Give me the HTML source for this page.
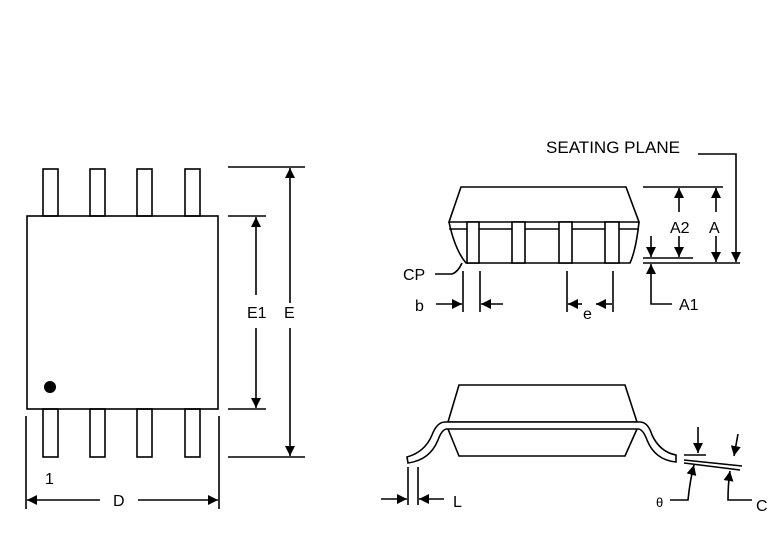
<!DOCTYPE html>
<html><head><style>
html,body{margin:0;padding:0;background:#fff;}
svg{display:block;}
text{font-family:"Liberation Sans",sans-serif;font-size:16px;fill:#000;}
</style></head><body>
<svg width="780" height="556" viewBox="0 0 780 556" xmlns="http://www.w3.org/2000/svg">
<defs>
<marker id="ar" viewBox="0 0 10 10" refX="10" refY="5" markerWidth="10" markerHeight="10" markerUnits="userSpaceOnUse" orient="auto-start-reverse">
<path d="M0,0 L10,5 L0,10 z" fill="#000"/></marker>
</defs>
<g stroke="#000" stroke-width="1.6" fill="none">
<rect x="27" y="216" width="191" height="193"/>
<rect x="43" y="169" width="15" height="47"/><rect x="90" y="169" width="15" height="47"/><rect x="137" y="169" width="15" height="47"/><rect x="185" y="169" width="15" height="47"/>
<rect x="43" y="409" width="15" height="48"/><rect x="90" y="409" width="15" height="48"/><rect x="137" y="409" width="15" height="48"/><rect x="185" y="409" width="15" height="48"/>
<line x1="228" y1="167" x2="305" y2="167"/><line x1="228" y1="457" x2="305" y2="457"/>
<line x1="228" y1="216" x2="266" y2="216"/><line x1="228" y1="409" x2="266" y2="409"/>
<line x1="290" y1="303" x2="290" y2="168" marker-end="url(#ar)"/><line x1="290" y1="328" x2="290" y2="456" marker-end="url(#ar)"/>
<line x1="256" y1="295" x2="256" y2="217" marker-end="url(#ar)"/><line x1="256" y1="328" x2="256" y2="408" marker-end="url(#ar)"/>
<line x1="26" y1="416" x2="26" y2="509"/><line x1="219" y1="416" x2="219" y2="509"/>
<line x1="100" y1="500" x2="27" y2="500" marker-end="url(#ar)"/><line x1="138" y1="500" x2="218" y2="500" marker-end="url(#ar)"/>
<path d="M461,187 L626,187 L639,222 L449,222 Z"/>
<path d="M449,222 Q455,250 466,263 L630,263 Q636,250 639,222"/>
<line x1="449" y1="229" x2="639" y2="229"/>
<g fill="#fff">
<rect x="467" y="222" width="12" height="41"/><rect x="512" y="222" width="13" height="41"/><rect x="559" y="222" width="13" height="41"/><rect x="605" y="222" width="14" height="41"/>
</g>
<line x1="643" y1="187" x2="723" y2="187"/>
<line x1="643" y1="258" x2="693" y2="258"/><line x1="643" y1="263" x2="740" y2="263"/>
<line x1="679" y1="212" x2="679" y2="188" marker-end="url(#ar)"/><line x1="679" y1="236" x2="679" y2="257" marker-end="url(#ar)"/>
<line x1="716" y1="212" x2="716" y2="188" marker-end="url(#ar)"/><line x1="716" y1="236" x2="716" y2="262" marker-end="url(#ar)"/>
<polyline points="698,154 736,154 736,262" marker-end="url(#ar)"/>
<line x1="651" y1="236" x2="651" y2="257" marker-end="url(#ar)"/>
<polyline points="672,304 651,304 651,264" marker-end="url(#ar)"/>
<path d="M435,274 L452,274 Q458,272 462,263"/>
<line x1="463" y1="271" x2="463" y2="312"/><line x1="480" y1="271" x2="480" y2="312"/>
<line x1="436" y1="304" x2="462" y2="304" marker-end="url(#ar)"/><line x1="503" y1="304" x2="481" y2="304" marker-end="url(#ar)"/>
<line x1="567" y1="271" x2="567" y2="312"/><line x1="613" y1="271" x2="613" y2="312"/>
<line x1="582" y1="304" x2="568" y2="304" marker-end="url(#ar)"/><line x1="612" y1="304" x2="596" y2="304" marker-end="url(#ar)"/>
<path d="M459,385 L625,385 L637,422 L448,422 Z" fill="#fff"/>
<path d="M448,429 L459,456 L625,456 L637,429"/>
<path d="M407,457 Q425,452 432,435 Q437,422 445,422 L640,422 Q648,422 652,435 Q660,452 676,455 L676,462 Q655,460 647,440 Q643,429 638,429 L447,429 Q442,429 438,440 Q430,460 408,463 Z" fill="#fff"/>
<line x1="408" y1="467" x2="408" y2="505"/><line x1="418" y1="467" x2="418" y2="505"/>
<line x1="381" y1="499" x2="407" y2="499" marker-end="url(#ar)"/><line x1="444" y1="499" x2="419" y2="499" marker-end="url(#ar)"/>
<line x1="684" y1="455" x2="706" y2="455"/>
<line x1="684" y1="460" x2="742" y2="466"/><line x1="684" y1="463" x2="740" y2="470"/>
<line x1="698" y1="427" x2="698" y2="453" marker-end="url(#ar)"/>
<line x1="738" y1="434" x2="734" y2="456" marker-end="url(#ar)"/>
<path d="M670,500 L688,500 Q690,480 694,465" marker-end="url(#ar)"/>
<path d="M752,500 L728,500 Q728,484 730,471" marker-end="url(#ar)"/>
</g>
<circle cx="50" cy="387" r="6" fill="#000"/>
<text x="45" y="484">1</text>
<text x="113" y="506">D</text>
<text x="247" y="318">E1</text>
<text x="284" y="318">E</text>
<text x="546" y="153" textLength="134" lengthAdjust="spacingAndGlyphs" style="font-size:16.5px">SEATING PLANE</text>
<text x="670" y="233">A2</text>
<text x="709" y="233">A</text>
<text x="679" y="310">A1</text>
<text x="403" y="280">CP</text>
<text x="415" y="311">b</text>
<text x="583" y="319">e</text>
<text x="453" y="507">L</text>
<text x="656" y="507" style="font-size:13px">θ</text>
<text x="756" y="511">C</text>
</svg>
</body></html>
